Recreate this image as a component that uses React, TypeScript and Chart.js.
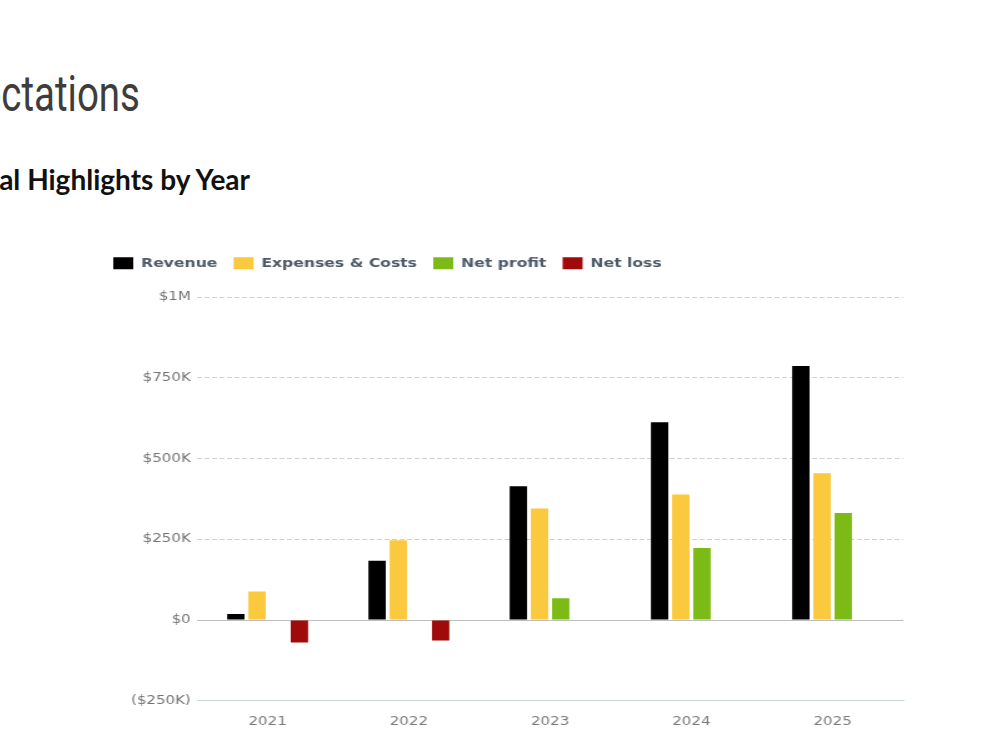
import React, { useEffect, useRef } from "react";
import { Chart, registerables } from "chart.js";

Chart.register(...registerables);

// Yearly figures (USD)
const years = ["2021", "2022", "2023", "2024", "2025"];
const revenue = [18000, 183000, 414000, 612000, 786000];
const expensesAndCosts = [88000, 247000, 345000, 388000, 454000];
const netProfit = [null, null, 67000, 223000, 331000];
const netLoss = [-70000, -64000, null, null, null];

// Value axis ticks and their printed labels
const yTickValues = [-250000, 0, 250000, 500000, 750000, 1000000];
const yTickLabels = ["($250K)", "$0", "$250K", "$500K", "$750K", "$1M"];

const seriesNames = ["Revenue", "Expenses & Costs", "Net profit", "Net loss"];
const seriesColors = ["#000000", "#fbc93d", "#7cbb15", "#a00a0a"];

// The chart is drawn at its own size and shown widened on the slide
const CANVAS_W = 648;
const CANVAS_H = 500;
const STRETCH_X = 1.25;

const legendGap = {
  id: "legendGap",
  beforeLayout(chart: any) {
    const legend = chart.legend;
    if (!legend || legend._gapPatched) return;
    const fit = legend.fit;
    legend.fit = function () {
      fit.call(this);
      this.height += 17.5;
    };
    legend._gapPatched = true;
  },
};

const zeroLine = {
  id: "zeroLine",
  beforeDatasetsDraw(chart: any) {
    const { ctx, chartArea, scales } = chart;
    const y = Math.round(scales.y.getPixelForValue(0)) + 0.5;
    ctx.save();
    ctx.strokeStyle = "#bdbdbd";
    ctx.lineWidth = 1;
    ctx.beginPath();
    ctx.moveTo(chartArea.left, y);
    ctx.lineTo(chartArea.right, y);
    ctx.stroke();
    ctx.restore();
  },
};

function HighlightsChart() {
  const canvasRef = useRef<HTMLCanvasElement | null>(null);

  useEffect(() => {
    if (!canvasRef.current) return;
    const values = [revenue, expensesAndCosts, netProfit, netLoss];
    const chart = new Chart(canvasRef.current, {
      type: "bar",
      data: {
        labels: years,
        datasets: seriesNames.map((name, i) => ({
          label: name,
          data: values[i] as any,
          backgroundColor: seriesColors[i],
          borderWidth: 0,
          categoryPercentage: 0.6,
          barPercentage: 0.82,
        })),
      },
      options: {
        responsive: false,
        animation: false,
        font: { family: "'DejaVu Sans', sans-serif" } as any,
        layout: { padding: { left: 0, right: 3, top: 0, bottom: 1 } },
        plugins: {
          legend: {
            position: "top",
            align: "start",
            labels: {
              boxWidth: 16,
              boxHeight: 12,
              padding: 13,
              color: "#4d5a68",
              font: { family: "'DejaVu Sans', sans-serif", size: 12.5, weight: "bold" },
            },
          },
          tooltip: { enabled: false },
        },
        scales: {
          x: {
            grid: { display: false, drawTicks: false },
            border: { display: true, color: "#c9d3da", width: 1 },
            ticks: {
              color: "#7a7a7a",
              padding: 14,
              font: { family: "'DejaVu Sans', sans-serif", size: 12 },
            },
          },
          y: {
            min: yTickValues[0],
            max: yTickValues[yTickValues.length - 1],
            afterBuildTicks: (scale: any) => {
              scale.ticks = yTickValues.map((v) => ({ value: v }));
            },
            afterFit: (scale: any) => {
              scale.width = 80;
            },
            grid: {
              drawTicks: false,
              color: (ctx: any) =>
                ctx.tick && (ctx.tick.value === 0 || ctx.tick.value === yTickValues[0])
                  ? "rgba(0,0,0,0)"
                  : "#d0d0d0",
              lineWidth: 1,
            },
            border: { display: false, dash: [4, 2] },
            ticks: {
              color: "#737373",
              padding: 5,
              font: { family: "'DejaVu Sans', sans-serif", size: 12 },
              callback: (value: any) => {
                const idx = yTickValues.indexOf(Number(value));
                return idx >= 0 ? yTickLabels[idx] : "";
              },
            },
          },
        },
      },
      plugins: [legendGap, zeroLine],
    });
    return () => chart.destroy();
  }, []);

  return (
    <canvas
      ref={canvasRef}
      width={CANVAS_W}
      height={CANVAS_H}
      style={{
        position: "absolute",
        left: 97,
        top: 244,
        width: CANVAS_W * STRETCH_X,
        height: CANVAS_H,
        display: "block",
      }}
    />
  );
}

export default function App() {
  return (
    <div
      style={{
        position: "absolute",
        left: 0,
        top: 0,
        width: 1000,
        height: 750,
        overflow: "hidden",
        background: "#ffffff",
      }}
    >
      <div
        style={{
          position: "absolute",
          left: -600,
          top: 69,
          width: 740,
          textAlign: "right",
          fontFamily: "Roboto, sans-serif",
          fontSize: 50,
          lineHeight: "50px",
          color: "#3d3d3d",
          whiteSpace: "nowrap",
        }}
      >
        <span
          style={{
            display: "inline-block",
            transform: "scaleX(0.77)",
            transformOrigin: "right center",
          }}
        >
          Expectations
        </span>
      </div>
      <div
        style={{
          position: "absolute",
          left: -500,
          top: 165,
          width: 750,
          textAlign: "right",
          fontFamily: "Lato, sans-serif",
          fontWeight: 700,
          fontSize: 28,
          lineHeight: "28px",
          color: "#111111",
          whiteSpace: "nowrap",
        }}
      >
        Financial Highlights by Year
      </div>
      <HighlightsChart />
    </div>
  );
}
